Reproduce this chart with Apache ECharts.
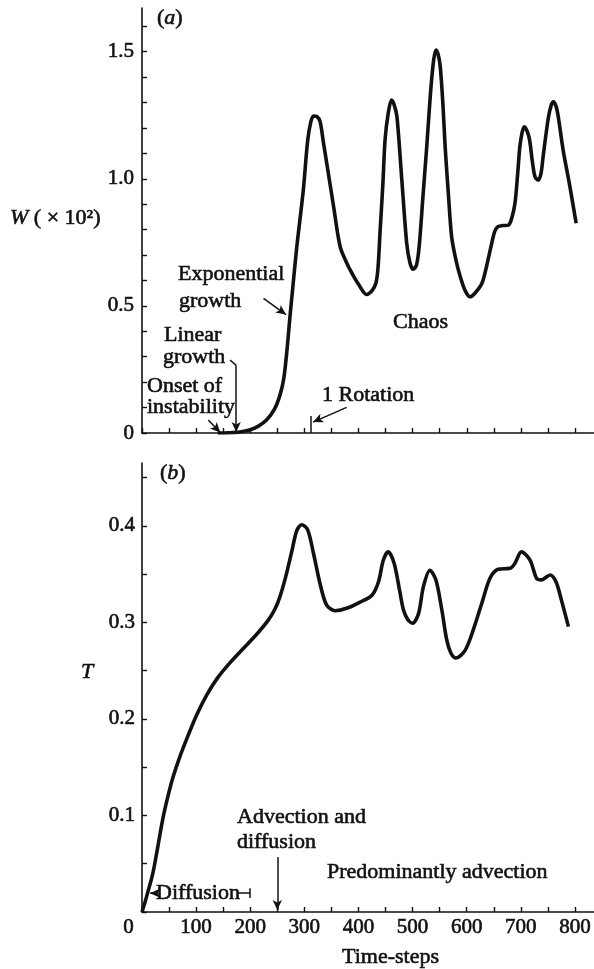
<!DOCTYPE html>
<html>
<head>
<meta charset="utf-8">
<script src="https://cdn.jsdelivr.net/npm/echarts@6/dist/echarts.min.js"></script>
<style>
html,body{margin:0;padding:0;background:#fff;}
#chart{width:594px;height:969px;}
</style>
</head>
<body>
<div id="chart"></div>
<script>
// ---- Panel (a): W (x10^2) vs time-steps ----
var timeW = [140,160,180,200,215,230,245,255,262,268,273,278,286,298,306,312,317,323,329,335,341,354,366,378,388,400,415,425,432,436,440,445,449,455,461,466,471,480,489,495,501,507,512,519,526,531,535,539,543,547,551,556,560,566,572,580,588,597,606,615,628,637,646,652,658,667,677,683,689,694,698,702,706,711,716,721,726,732,737,741,746,751,756,760,765,769,778,790,802];
var valW  = [0,0.001,0.004,0.013,0.027,0.051,0.095,0.15,0.215,0.33,0.45,0.56,0.733,0.956,1.15,1.225,1.247,1.245,1.225,1.145,1.065,0.89,0.733,0.67,0.628,0.585,0.545,0.56,0.589,0.65,0.80,0.98,1.153,1.26,1.31,1.29,1.244,0.995,0.746,0.67,0.644,0.66,0.733,0.93,1.126,1.28,1.389,1.47,1.507,1.49,1.441,1.29,1.126,0.94,0.772,0.68,0.615,0.56,0.536,0.55,0.589,0.66,0.746,0.795,0.812,0.816,0.818,0.845,0.904,1.02,1.126,1.18,1.205,1.19,1.153,1.07,1.008,0.995,1.02,1.087,1.17,1.244,1.29,1.303,1.285,1.244,1.113,0.975,0.825];

// ---- Panel (b): T vs time-steps ----
var timeT = [0,5,10,20,29,39,48,57,70,86,101,120,139,164,189,214,233,245,254,265,277,286,295,306,317,329,341,357,378,403,425,437,446,455,466,476,483,491,500,511,520,532,543,554,563,571,580,597,612,628,643,658,680,689,701,717,729,738,754,765,775,788];
var valT  = [0,0.009,0.019,0.040,0.067,0.098,0.120,0.139,0.161,0.184,0.204,0.225,0.242,0.259,0.274,0.289,0.302,0.313,0.325,0.346,0.374,0.395,0.401,0.396,0.371,0.340,0.318,0.312,0.3145,0.321,0.328,0.342,0.3645,0.373,0.361,0.333,0.313,0.303,0.299,0.309,0.337,0.354,0.344,0.313,0.282,0.268,0.263,0.271,0.292,0.320,0.3456,0.355,0.356,0.361,0.373,0.3645,0.3456,0.344,0.349,0.342,0.323,0.2955];

// ---- Axis ticks / labels ----
var xTicks = [0,50,100,150,200,250,300,350,400,450,500,550,600,650,700,750,800];
var xLabels = [0,100,200,300,400,500,600,700,800];
var wTicks = [0,0.1,0.2,0.3,0.4,0.5,0.6,0.7,0.8,0.9,1.0,1.1,1.2,1.3,1.4,1.5,1.6];
var wLabels = [0,0.5,1.0,1.5];
var tTicks = [0,0.05,0.1,0.15,0.2,0.25,0.3,0.35,0.4,0.45];
var tLabels = [0.1,0.2,0.3,0.4];

// annotation marks (data coordinates)
var rotationStep = 311.5;
var linearGrowthStep = 174;
var onsetStep = 144.5;
var advectionStep = 250;
var diffusionEnd = 200;

function pairs(xs, ys){ return xs.map(function(x,i){ return [x, ys[i]]; }); }

var INK = '#111';
var FONT = '"Liberation Serif", "DejaVu Serif", serif';
var FS = 22;
var STROKE = 0.6;

function seg(a, b, arrow){
  return [{coord:a, symbol:'none'}, {coord:b, symbol: arrow ? 'arrow' : 'none'}];
}

var chart = echarts.init(document.getElementById('chart'), null, {renderer:'canvas'});

var axisCommon = {
  axisLine:{show:true, onZero:false, lineStyle:{color:INK, width:1.6}},
  splitLine:{show:false},
  axisTick:{show:true, inside:true, length:5, lineStyle:{color:INK, width:1.4}},
  axisLabel:{color:INK, fontFamily:FONT, fontSize:21, textBorderColor:INK, textBorderWidth:STROKE}
};

function txt(text, x, y){
  var st = {text:text, x:x, y:y, fill:INK, stroke:INK, lineWidth:STROKE,
            font: FS + 'px ' + FONT, textAlign:'left', textVerticalAlign:'middle',
            rich:{i:{fontStyle:'italic', fontFamily:FONT, fontSize:FS, fill:INK, stroke:INK, lineWidth:STROKE}}};
  return {type:'text', silent:true, style:st};
}

var option = {
  animation:false,
  backgroundColor:'#fff',
  grid:[
    {left:142, width:452, top:8, height:425},
    {left:142, width:452, top:463, height:449}
  ],
  xAxis:[
    Object.assign({}, axisCommon, {type:'value', gridIndex:0, min:0, max:835,
      axisTick:Object.assign({}, axisCommon.axisTick, {customValues:xTicks}),
      axisLabel:{show:false}}),
    Object.assign({}, axisCommon, {type:'value', gridIndex:1, min:0, max:835,
      axisTick:Object.assign({}, axisCommon.axisTick, {customValues:xTicks}),
      axisLabel:Object.assign({}, axisCommon.axisLabel, {customValues:xLabels, margin:5,
        formatter:function(v){ return v === 0 ? '{z|0}' : String(v); },
        rich:{z:{fontFamily:FONT, fontSize:21, color:INK, textBorderColor:INK, textBorderWidth:STROKE, padding:[0,27,0,0]}}})})
  ],
  yAxis:[
    Object.assign({}, axisCommon, {type:'value', gridIndex:0, min:0, max:1.672,
      axisTick:Object.assign({}, axisCommon.axisTick, {customValues:wTicks}),
      axisLabel:Object.assign({}, axisCommon.axisLabel, {customValues:wLabels, margin:8,
        formatter:function(v){ return v === 0 ? '0' : v.toFixed(1); }})}),
    Object.assign({}, axisCommon, {type:'value', gridIndex:1, min:0, max:0.465,
      axisTick:Object.assign({}, axisCommon.axisTick, {customValues:tTicks}),
      axisLabel:Object.assign({}, axisCommon.axisLabel, {customValues:tLabels, margin:7,
        formatter:function(v){ return v.toFixed(1); }})})
  ],
  series:[
    {
      type:'line', xAxisIndex:0, yAxisIndex:0, data:pairs(timeW, valW),
      showSymbol:false, smooth:0.3, lineStyle:{color:INK, width:3.6}, silent:true,
      markLine:{
        silent:true, animation:false, symbolSize:[7,10],
        label:{show:false}, lineStyle:{color:INK, width:1.5, type:'solid'},
        data:[
          seg([224.5,0.530],[266,0.466], true),
          seg([162.6,0.287],[linearGrowthStep,0.266], false),
          seg([linearGrowthStep,0.266],[linearGrowthStep,0.004], true),
          seg([122.5,0.051],[onsetStep,0.002], true),
          seg([378,0.101],[316,0.043], true),
          seg([rotationStep,0],[rotationStep,0.067], false)
        ]
      }
    },
    {
      type:'line', xAxisIndex:1, yAxisIndex:1, data:pairs(timeT, valT),
      showSymbol:false, smooth:0.3, lineStyle:{color:INK, width:3.6}, silent:true,
      markLine:{
        silent:true, animation:false, symbolSize:[7,10],
        label:{show:false}, lineStyle:{color:INK, width:1.5, type:'solid'},
        data:[
          seg([advectionStep,0.057],[advectionStep,0.002], true),
          seg([24,0.0195],[15,0.0195], true),
          seg([178,0.0195],[diffusionEnd,0.0195], false),
          seg([diffusionEnd,0.0145],[diffusionEnd,0.0245], false)
        ]
      }
    }
  ],
  graphic:[
    txt('({i|a})', 157, 18),
    txt('{i|W} ( × 10²)', 10, 218),
    txt('Exponential', 178, 274),
    txt('growth', 179, 301),
    txt('Linear', 164, 335),
    txt('growth', 163, 357),
    txt('Onset of', 147, 386),
    txt('instability', 147, 407),
    txt('1 Rotation', 322, 395),
    txt('Chaos', 393, 322),
    txt('({i|b})', 160, 473),
    txt('{i|T}', 81, 672),
    txt('Advection and', 237, 817),
    txt('diffusion', 237, 842),
    txt('Predominantly advection', 327, 872),
    txt('Diffusion', 156, 893),
    txt('Time-steps', 342, 957)
  ]
};
chart.setOption(option);
</script>
</body>
</html>
